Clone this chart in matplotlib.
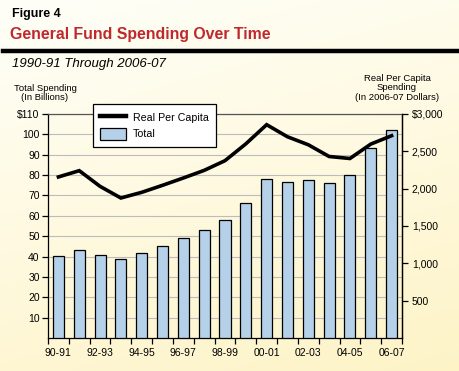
import matplotlib
matplotlib.use("Agg")
import matplotlib.pyplot as plt
import numpy as np
from matplotlib.lines import Line2D
from matplotlib.patches import Patch

plt.rcParams["font.family"] = ["Liberation Sans", "DejaVu Sans"]

# ── data ────────────────────────────────────────────────────────────
years = ["90-91", "91-92", "92-93", "93-94", "94-95", "95-96", "96-97",
         "97-98", "98-99", "99-00", "00-01", "01-02", "02-03", "03-04",
         "04-05", "05-06", "06-07"]
total_billions = [40.4, 43.2, 40.9, 39.0, 41.9, 45.3, 49.3, 53.2, 58.1,
                  66.5, 78.3, 76.8, 77.8, 76.3, 79.8, 93.1, 102.0]
per_capita = [2157, 2241, 2031, 1875, 1951, 2045, 2143, 2245, 2375,
              2600, 2857, 2695, 2588, 2431, 2404, 2597, 2709]
left_ticks = [10, 20, 30, 40, 50, 60, 70, 80, 90, 100, 110]
left_labels = ["10", "20", "30", "40", "50", "60", "70", "80", "90", "100", "$110"]
right_ticks = [500, 1000, 1500, 2000, 2500, 3000]
right_labels = ["500", "1,000", "1,500", "2,000", "2,500", "$3,000"]

BAR_BLUE = "#b5d1ea"
GRID_GREY = "#bcbcbc"
TITLE_RED = "#c0282d"

fig = plt.figure(figsize=(4.59, 3.71), dpi=100)

# ── background gradient ─────────────────────────────────────────────
bg = fig.add_axes([0, 0, 1, 1], zorder=-10)
yy, xx = np.mgrid[0:1:200j, 0:1:200j]
t = np.clip(0.75 * yy + 0.25 * xx, 0, 1)
top = np.array([1.0, 1.0, 0.975])
bot = np.array([0.995, 0.955, 0.78])
img = top[None, None, :] * (1 - t[..., None]) + bot[None, None, :] * t[..., None]
bg.imshow(img, aspect="auto", extent=[0, 1, 0, 1], origin="upper")
bg.axis("off")

# ── header ──────────────────────────────────────────────────────────
fig.text(12 / 459, 1 - 14 / 371, "Figure 4", fontsize=9, fontweight="bold",
         va="center", ha="left")
fig.text(10 / 459, 1 - 35 / 371, "General Fund Spending Over Time", fontsize=11.45,
         fontweight="bold", color=TITLE_RED, va="center", ha="left")
fig.add_artist(Line2D([3 / 459, 1], [1 - 51 / 371] * 2, color="black", lw=3.2,
                      transform=fig.transFigure))
fig.text(12 / 459, 1 - 64 / 371, "1990-91 Through 2006-07", fontsize=9.5,
         fontstyle="italic", va="center", ha="left")
fig.text(45 / 459, 1 - 93 / 371, "Total Spending\n(In Billions)", fontsize=6.8,
         ha="center", va="center", linespacing=1.1)
fig.text(397 / 459, 1 - 88 / 371, "Real Per Capita\nSpending\n(In 2006-07 Dollars)",
         fontsize=6.8, ha="center", va="center", linespacing=1.1)

# ── main axes ───────────────────────────────────────────────────────
ax = fig.add_axes([48 / 459, 33 / 371, 354 / 459, 224 / 371])
ax.patch.set_alpha(0)
x = np.arange(len(years))
ax.bar(x, total_billions, width=0.53, color=BAR_BLUE, edgecolor="black",
       linewidth=0.9, zorder=3)
ax.set_xlim(-0.5, len(years) - 0.5)
ax.set_ylim(0, 110)
ax.set_yticks(left_ticks)
ax.set_yticklabels(left_labels)
ax.yaxis.grid(True, color=GRID_GREY, lw=0.8, zorder=0)
ax.set_xticks(x[::2])
ax.set_xticklabels(years[::2])
ax.set_xticks(np.arange(-0.5, len(years), 1), minor=True)
ax.tick_params(axis="x", which="major", length=0, pad=7, labelsize=7.5)
ax.tick_params(axis="x", which="minor", length=4, width=0.9, direction="out")
ax.tick_params(axis="y", length=4, width=0.9, direction="out", labelsize=7.5, pad=2)
for side in ["left", "bottom", "right"]:
    ax.spines[side].set_linewidth(0.9)
ax.spines["top"].set_color("#555555")
ax.spines["top"].set_linewidth(0.9)

ax2 = ax.twinx()
ax2.plot(x, per_capita, color="black", lw=2.6, solid_joinstyle="miter", zorder=4)
ax2.set_ylim(0, 3000)
ax2.set_yticks(right_ticks)
ax2.set_yticklabels(right_labels)
ax2.tick_params(axis="y", length=4, width=0.9, direction="out", labelsize=7.5, pad=3)
ax2.spines["right"].set_linewidth(0.9)
ax2.spines["top"].set_visible(False)
ax2.spines["left"].set_visible(False)
ax2.spines["bottom"].set_visible(False)

# ── legend ──────────────────────────────────────────────────────────
handles = [
    Line2D([], [], color="black", lw=3.2, label="Real Per Capita"),
    Patch(facecolor=BAR_BLUE, edgecolor="black", lw=0.9, label="Total"),
]
leg = fig.legend(handles=handles, loc="upper left",
                 bbox_to_anchor=(93 / 459, 1 - 104 / 371), borderaxespad=0,
                 fancybox=False, frameon=True, edgecolor="black", framealpha=1,
                 facecolor="white", fontsize=7.7, handlelength=2.4, handleheight=1.3,
                 handletextpad=0.6, borderpad=0.7, labelspacing=0.45)
leg.get_frame().set_linewidth(0.9)
leg.set_zorder(10)

fig.savefig("out.png", dpi=100)
